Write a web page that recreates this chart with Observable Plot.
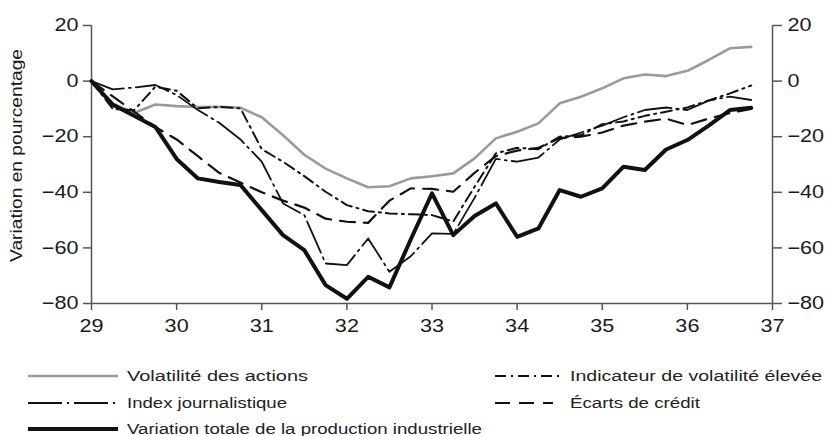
<!DOCTYPE html>
<html><head><meta charset="utf-8">
<script src="https://cdn.jsdelivr.net/npm/d3@7"></script>
<script src="https://cdn.jsdelivr.net/npm/@observablehq/plot@0.6"></script>
<style>
body{margin:0;background:#fff;}
#wrap{position:relative;width:827px;height:436px;font-family:"Liberation Sans",Arial,sans-serif;color:#1a1a1a;background:#fff;}
#legend{position:absolute;left:0;top:0;width:827px;height:436px;pointer-events:none;}
.lg-line{position:absolute;overflow:visible;}
.lg-text{position:absolute;white-space:nowrap;font-size:15.5px;line-height:14px;height:14px;transform-origin:0 50%;color:#222;}
</style></head>
<body><div id="wrap"><div id="chart"></div><div id="legend"></div></div>
<script>
const quarters = [29, 29.25, 29.5, 29.75, 30, 30.25, 30.5, 30.75, 31, 31.25, 31.5, 31.75, 32, 32.25, 32.5, 32.75, 33, 33.25, 33.5, 33.75, 34, 34.25, 34.5, 34.75, 35, 35.25, 35.5, 35.75, 36, 36.25, 36.5, 36.75];
const volatiliteActions = [0, -8, -11.5, -8.4, -9, -9.3, -9.2, -9.6, -13, -19.5, -26.5, -31.5, -35, -38.2, -37.8, -35, -34.2, -33.2, -27.8, -20.6, -18.2, -15.2, -8, -5.6, -2.6, 1, 2.4, 1.8, 3.7, 7.6, 11.8, 12.3];
const indexJournalistique = [0, -3, -2.3, -1.4, -5, -10.4, -15, -21, -29, -44, -48.2, -65.6, -66.2, -56.6, -68.6, -63, -54.8, -55, -42, -28, -29, -27.5, -21, -18.5, -16, -13, -10.4, -9.5, -10.4, -7, -5.6, -6.8];
const indicateurVolatilite = [0, -10, -10.5, -2, -3.5, -9.8, -9.3, -9.8, -24.5, -29, -34.2, -39.8, -44.6, -46.8, -47.6, -47.9, -48.2, -50.5, -38, -26, -24, -24.5, -20, -19.5, -15.5, -14.5, -12.5, -11, -9.5, -7, -4.4, -1.6];
const ecartsCredit = [0, -5.5, -11, -16.5, -21, -27, -33, -36.5, -40, -43, -45.5, -49.5, -50.6, -51, -43, -38.6, -38.8, -39.8, -33, -27, -25, -24, -20.5, -20, -18.5, -16, -14.6, -13.5, -15.8, -13.5, -11.5, -10];
const productionIndustrielle = [0, -8.5, -12.5, -16.5, -28, -35, -36.3, -37.4, -46.4, -55.4, -60.8, -73.4, -78.3, -70.4, -74.2, -57, -40.4, -55.4, -48.5, -44, -56, -53, -39.2, -41.6, -38.6, -30.8, -32, -24.6, -21.2, -16, -10.4, -9.6];
const seriesNames = ["Volatilité des actions", "Index journalistique", "Variation totale de la production industrielle", "Indicateur de volatilité élevée", "Écarts de crédit"];
const xTicks = [29, 30, 31, 32, 33, 34, 35, 36, 37];
const yTicks = [-80, -60, -40, -20, 0, 20];
const yLabel = "Variation en pourcentage";

// styles (not data)
const axisColor = "#555";
const textColor = "#1a1a1a";
const seriesStyle = {
  "Volatilité des actions": {stroke: "#9a9a9a", strokeWidth: 2.6, dash: null},
  "Index journalistique": {stroke: "#111", strokeWidth: 1.8, dash: "34,5,2,5"},
  "Variation totale de la production industrielle": {stroke: "#111", strokeWidth: 4, dash: null},
  "Indicateur de volatilité élevée": {stroke: "#111", strokeWidth: 2, dash: "11,5,2,5"},
  "Écarts de crédit": {stroke: "#111", strokeWidth: 2.2, dash: "15,9"}
};
const seriesValues = {
  "Volatilité des actions": volatiliteActions,
  "Index journalistique": indexJournalistique,
  "Variation totale de la production industrielle": productionIndustrielle,
  "Indicateur de volatilité élevée": indicateurVolatilite,
  "Écarts de crédit": ecartsCredit
};
const drawOrder = [seriesNames[0], seriesNames[4], seriesNames[3], seriesNames[1], seriesNames[2]];

const rows = (vals) => quarters.map((q, i) => ({x: q, y: vals[i]}));

const lineMarks = drawOrder.map(name => {
  const s = seriesStyle[name];
  const opts = {x: "x", y: "y", stroke: s.stroke, strokeWidth: s.strokeWidth, strokeLinejoin: "round"};
  if (s.dash) opts.strokeDasharray = s.dash;
  return Plot.line(rows(seriesValues[name]), opts);
});

const fmt = d3.format("d");
const chart = Plot.plot({
  width: 827, height: 345,
  marginLeft: 91, marginRight: 55, marginTop: 25, marginBottom: 42,
  x: {domain: [xTicks[0], xTicks[xTicks.length - 1]]},
  y: {domain: [yTicks[0], yTicks[yTicks.length - 1]]},
  style: {fontFamily: "Liberation Sans, Arial, sans-serif", fontSize: "18px", background: "white", color: textColor},
  marks: [
    Plot.ruleX([xTicks[0], xTicks[xTicks.length - 1]], {stroke: axisColor, strokeWidth: 1.5}),
    Plot.ruleY([yTicks[0]], {stroke: axisColor, strokeWidth: 1.5}),
    Plot.axisX({ticks: xTicks, tickSize: 7, tickPadding: 9, tickFormat: fmt, label: null, stroke: axisColor, fill: textColor, strokeWidth: 1.5, fontSize: 18}),
    Plot.axisY({anchor: "left", ticks: yTicks, tickSize: 8, tickPadding: 5, tickFormat: fmt, label: null, stroke: axisColor, fill: textColor, strokeWidth: 1.5, fontSize: 18}),
    Plot.axisY({anchor: "right", ticks: yTicks, tickSize: 9, tickPadding: 6, tickFormat: fmt, label: null, stroke: axisColor, fill: textColor, strokeWidth: 1.5, fontSize: 18}),
    Plot.text([yLabel], {frameAnchor: "left", textAnchor: "middle", rotate: -90, dx: -75, dy: -9, fontSize: 16, fill: textColor}),
    ...lineMarks
  ]
});
document.getElementById("chart").appendChild(chart);

// widen text glyphs along the text direction to match the reference type
chart.querySelectorAll("text").forEach(t => {
  let tr = t.getAttribute("transform");
  if (!tr) {
    const x = t.getAttribute("x") || 0, y = t.getAttribute("y") || 0;
    t.removeAttribute("x"); t.removeAttribute("y");
    tr = `translate(${x},${y})`;
  }
  t.setAttribute("transform", tr + " scale(1.2,1)");
});

// legend (below the SVG)
const legendLayout = [
  {name: seriesNames[0], lx: 28, lw: 90, tx: 127, tw: 181, cy: 375.5},
  {name: seriesNames[1], lx: 28, lw: 90, tx: 127, tw: 160, cy: 402.5},
  {name: seriesNames[2], lx: 28, lw: 90, tx: 127, tw: 355, cy: 429},
  {name: seriesNames[3], lx: 495, lw: 66, tx: 570, tw: 252, cy: 375.5},
  {name: seriesNames[4], lx: 495, lw: 58, tx: 570, tw: 130, cy: 402.5}
];
const legend = document.getElementById("legend");
legendLayout.forEach(it => {
  const s = seriesStyle[it.name];
  const ns = "http://www.w3.org/2000/svg";
  const svg = document.createElementNS(ns, "svg");
  svg.setAttribute("class", "lg-line");
  svg.setAttribute("width", it.lw);
  svg.setAttribute("height", 10);
  svg.style.left = it.lx + "px";
  svg.style.top = (it.cy - 5) + "px";
  const ln = document.createElementNS(ns, "line");
  ln.setAttribute("x1", 0); ln.setAttribute("x2", it.lw);
  ln.setAttribute("y1", 5); ln.setAttribute("y2", 5);
  ln.setAttribute("stroke", s.stroke);
  ln.setAttribute("stroke-width", s.strokeWidth);
  if (s.dash) ln.setAttribute("stroke-dasharray", s.dash);
  svg.appendChild(ln);
  legend.appendChild(svg);
  const sp = document.createElement("span");
  sp.className = "lg-text";
  sp.textContent = it.name;
  sp.style.left = it.tx + "px";
  sp.style.top = (it.cy - 7) + "px";
  legend.appendChild(sp);
  const w = sp.getBoundingClientRect().width;
  sp.style.transform = `scaleX(${(it.tw / w).toFixed(3)})`;
});
</script>
</body></html>
